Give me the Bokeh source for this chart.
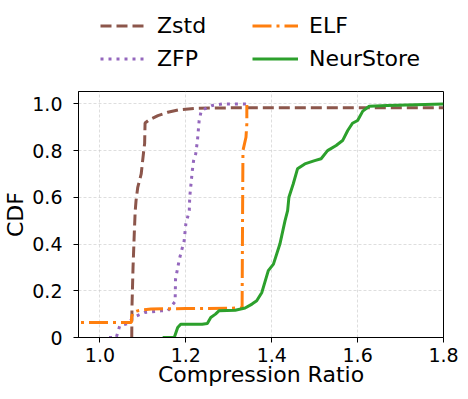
from bokeh.plotting import figure
from bokeh.layouts import column
from bokeh.models import Legend, LegendItem, FixedTicker, Range1d
from bokeh.embed import file_html
from bokeh.resources import INLINE

# ---- data ----
zstd_x = [1.074, 1.0745, 1.077, 1.080, 1.082, 1.084, 1.088, 1.096, 1.102, 1.104, 1.105,
          1.115, 1.135, 1.158, 1.185, 1.223, 1.30, 1.80]
zstd_y = [0.0, 0.13, 0.30, 0.45, 0.54, 0.586, 0.643, 0.70, 0.80, 0.83, 0.918,
          0.932, 0.950, 0.964, 0.975, 0.981, 0.983, 0.983]

zfp_x = [1.021, 1.038, 1.046, 1.065, 1.077, 1.104, 1.142, 1.158, 1.175, 1.176, 1.185,
         1.196, 1.200, 1.208, 1.209, 1.215, 1.218, 1.223, 1.227, 1.231, 1.236, 1.261,
         1.285, 1.35]
zfp_y = [0.0, 0.0, 0.05, 0.06, 0.086, 0.107, 0.114, 0.114, 0.154, 0.25, 0.336,
         0.414, 0.486, 0.543, 0.60, 0.714, 0.757, 0.786, 0.843, 0.929, 0.972, 0.993,
         1.0, 1.0]

elf_x = [0.90, 1.073, 1.074, 1.077, 1.085, 1.096, 1.119, 1.20, 1.30, 1.331, 1.332,
         1.333, 1.340, 1.342, 1.342]
elf_y = [0.064, 0.064, 0.09, 0.107, 0.113, 0.117, 0.122, 0.124, 0.125, 0.127, 0.5,
         0.80, 0.857, 0.914, 0.995]

neur_x = [1.146, 1.173, 1.181, 1.188, 1.238, 1.25, 1.258, 1.269, 1.277, 1.315, 1.338,
          1.354, 1.365, 1.377, 1.392, 1.404, 1.419, 1.431, 1.437, 1.440, 1.450, 1.460,
          1.477, 1.50, 1.515, 1.530, 1.55, 1.565, 1.577, 1.588, 1.600, 1.612, 1.627,
          1.669, 1.8]
neur_y = [0.0, 0.0, 0.043, 0.057, 0.057, 0.060, 0.086, 0.10, 0.114, 0.117, 0.126,
          0.143, 0.157, 0.193, 0.286, 0.314, 0.40, 0.50, 0.543, 0.60, 0.657, 0.722,
          0.743, 0.757, 0.765, 0.80, 0.822, 0.843, 0.886, 0.917, 0.929, 0.969, 0.99,
          0.993, 1.0]

series_names = ["Zstd", "ZFP", "ELF", "NeurStore"]
series_colors = ["#8c564b", "#9467bd", "#ff7f0e", "#2ca02c"]
series_dashes = ["11 5", "3 5", "19 5 3 5", "solid"]

x_ticks = [1.0, 1.2, 1.4, 1.6, 1.8]
y_ticks = [0.0, 0.2, 0.4, 0.6, 0.8, 1.0]
y_tick_labels = ["0", "0.2", "0.4", "0.6", "0.8", "1.0"]

FONT = "DejaVu Sans"
W = 460
LEG_H = 83
MAIN_H = 308

data = [(zstd_x, zstd_y), (zfp_x, zfp_y), (elf_x, elf_y), (neur_x, neur_y)]

# ---------------- main plot ----------------
p = figure(width=W, height=MAIN_H, output_backend="svg", toolbar_location=None,
           x_range=Range1d(0.95, 1.8), y_range=Range1d(0.0, 1.053),
           min_border_left=75, min_border_right=17, min_border_top=8,
           min_border_bottom=54)
p.outline_line_color = "black"
p.outline_line_width = 1

for (xs, ys), c, d in zip(data, series_colors, series_dashes):
    p.line(xs, ys, line_color=c, line_width=3, line_dash=d)

p.xaxis.ticker = FixedTicker(ticks=x_ticks)
p.yaxis.ticker = FixedTicker(ticks=y_ticks)
p.xaxis.major_label_overrides = {t: f"{t:.1f}" for t in x_ticks}
p.yaxis.major_label_overrides = {t: l for t, l in zip(y_ticks, y_tick_labels)}
for ax in (p.xaxis[0], p.yaxis[0]):
    ax.major_label_text_font = FONT
    ax.major_label_text_font_size = "19px"
    ax.major_label_text_color = "black"
    ax.axis_label_text_font = FONT
    ax.axis_label_text_font_size = "22px"
    ax.axis_label_text_font_style = "normal"
    ax.axis_label_text_color = "black"
    ax.axis_line_color = "black"
    ax.major_tick_line_color = "black"
    ax.major_tick_out = 5
    ax.major_tick_in = 0
    ax.minor_tick_line_color = None
p.xaxis.axis_label = "Compression Ratio"
p.yaxis.axis_label = "CDF"
p.xaxis.major_label_standoff = 5
p.xaxis.axis_label_standoff = -3
p.yaxis.major_label_standoff = 11
p.yaxis.axis_label_standoff = 1

p.grid.grid_line_color = "#c8c8c8"
p.grid.grid_line_alpha = 0.6
p.grid.grid_line_dash = "3 2"
p.grid.grid_line_width = 1
p.xgrid.ticker = FixedTicker(ticks=x_ticks)
p.ygrid.ticker = FixedTicker(ticks=y_ticks)

# ---------------- legend strip (series drawn out of view, used as legend proxies) ----
pl = figure(width=W, height=LEG_H, output_backend="svg", toolbar_location=None,
            x_range=Range1d(5, 6), y_range=Range1d(5, 6),
            x_axis_type=None, y_axis_type=None,
            min_border_left=0, min_border_right=0, min_border_top=0, min_border_bottom=0)
pl.outline_line_color = None
pl.grid.visible = False
items = []
for name, (xs, ys), c, d in zip(series_names, data, series_colors, series_dashes):
    r = pl.line(xs, ys, line_color=c, line_width=3, line_dash=d)
    items.append(LegendItem(label=name, renderers=[r]))

legend = Legend(items=items, ncols=2, orientation="vertical", location=(22, 8))
legend.border_line_color = None
legend.background_fill_alpha = 0
legend.label_text_font = FONT
legend.label_text_font_size = "22px"
legend.label_text_color = "black"
legend.glyph_width = 46
legend.glyph_height = 33
legend.label_height = 33
legend.label_width = 95
legend.label_standoff = 11
legend.spacing = 0
legend.padding = 0
legend.margin = 0
pl.add_layout(legend, "center")

layout = column(pl, p, spacing=0)
open("out.html", "w").write(file_html(layout, INLINE))
